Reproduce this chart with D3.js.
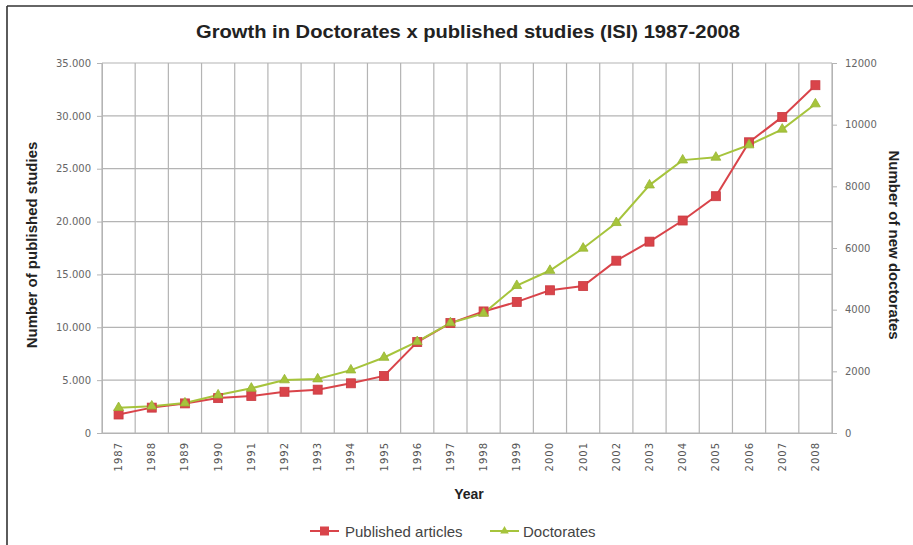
<!DOCTYPE html>
<html><head><meta charset="utf-8">
<script src="https://cdn.jsdelivr.net/npm/d3@7"></script>
<style>
html,body{margin:0;padding:0;background:#fff;}
svg{display:block;font-family:"Liberation Sans",Arial,sans-serif;}
</style></head>
<body><svg id="c" width="913" height="545"></svg>
<script>
const years = ["1987","1988","1989","1990","1991","1992","1993","1994","1995","1996","1997","1998","1999","2000","2001","2002","2003","2004","2005","2006","2007","2008"];
const publishedArticles = [1750,2400,2800,3300,3500,3900,4100,4700,5400,8600,10400,11500,12400,13500,13900,16300,18100,20100,22400,27500,29900,32900];
const doctorates = [820,870,970,1230,1450,1720,1750,2040,2450,2960,3570,3880,4780,5270,5990,6820,8040,8850,8940,9340,9850,10670];
const leftTicks = [0,5000,10000,15000,20000,25000,30000,35000];
const rightTicks = [0,2000,4000,6000,8000,10000,12000];

const svg = d3.select("#c");
const L = 102, R = 832, T = 63, B = 433;
const red = "#d9444a", green = "#a6c43c";

// frame
svg.append("line").attr("x1",7).attr("x2",7).attr("y1",6).attr("y2",545).attr("stroke","#333").attr("stroke-width",1.6);
svg.append("line").attr("x1",7).attr("x2",913).attr("y1",6).attr("y2",6).attr("stroke","#333").attr("stroke-width",1.6);

const x = d3.scaleBand().domain(years).range([L,R]);
const yL = d3.scaleLinear().domain([0,35000]).range([B,T]);
const yR = d3.scaleLinear().domain([0,12000]).range([B,T]);
const loc = d3.formatLocale({decimal:",",thousands:".",grouping:[3],currency:["",""]});
const fmtL = v => v===0 ? "0" : loc.format(",")(v);

// gridlines
const g = svg.append("g");
g.selectAll("line.h").data(leftTicks).join("line")
 .attr("x1",L).attr("x2",R).attr("y1",d=>yL(d)).attr("y2",d=>yL(d))
 .attr("stroke","#b4b4b4").attr("stroke-width",1.2);
const bounds = years.map(y=>x(y)).concat([R]);
g.selectAll("line.v").data(bounds).join("line")
 .attr("x1",d=>d).attr("x2",d=>d).attr("y1",T).attr("y2",B)
 .attr("stroke","#b4b4b4").attr("stroke-width",1.2);

// left axis
const axL = svg.append("g").attr("transform",`translate(${L},0)`)
 .call(d3.axisLeft(yL).tickValues(leftTicks).tickFormat(fmtL).tickSize(5).tickPadding(6));
axL.select(".domain").attr("stroke","#b4b4b4");
axL.selectAll(".tick line").attr("stroke","#b4b4b4");
axL.selectAll("text").attr("fill","#666").attr("font-family","DejaVu Sans, sans-serif").attr("font-size",10);

// right axis
const axR = svg.append("g").attr("transform",`translate(${R},0)`)
 .call(d3.axisRight(yR).tickValues(rightTicks).tickSize(5).tickPadding(8).tickFormat(d3.format("d")));
axR.select(".domain").attr("stroke","#b4b4b4");
axR.selectAll(".tick line").attr("stroke","#b4b4b4");
axR.selectAll("text").attr("fill","#666").attr("font-family","DejaVu Sans, sans-serif").attr("font-size",10);

// x axis
const axX = svg.append("g").attr("transform",`translate(0,${B})`)
 .call(d3.axisBottom(x).tickSize(0).tickPadding(0));
axX.select(".domain").attr("stroke","#b4b4b4");
axX.selectAll("text")
 .attr("transform","rotate(-90)")
 .attr("x",-9).attr("y",0).attr("dy","0.35em")
 .attr("text-anchor","end")
 .attr("fill","#555").attr("font-family","DejaVu Sans, sans-serif").attr("font-size",10)
 .attr("letter-spacing",1);

// lines
const cx = d => x(d)+x.bandwidth()/2;
const lineP = d3.line().x((d,i)=>cx(years[i])).y(d=>yL(d));
const lineD = d3.line().x((d,i)=>cx(years[i])).y(d=>yR(d));
svg.append("path").datum(publishedArticles).attr("d",lineP).attr("fill","none").attr("stroke",red).attr("stroke-width",2);
svg.append("path").datum(doctorates).attr("d",lineD).attr("fill","none").attr("stroke",green).attr("stroke-width",2);

svg.append("g").selectAll("rect").data(publishedArticles).join("rect")
 .attr("x",(d,i)=>cx(years[i])-4.5).attr("y",d=>yL(d)-4.5).attr("width",9).attr("height",9)
 .attr("fill",red).attr("stroke","#c93a40").attr("stroke-width",0.8);
const tri = d3.symbol().type(d3.symbolTriangle).size(42);
svg.append("g").selectAll("path").data(doctorates).join("path")
 .attr("d",tri).attr("transform",(d,i)=>`translate(${cx(years[i])},${yR(d)})`)
 .attr("fill",green).attr("stroke","#98b533").attr("stroke-width",0.8);

// titles
svg.append("text").attr("x",468).attr("y",38).attr("text-anchor","middle")
 .attr("font-size",18.5).attr("font-weight","bold").attr("fill","#222")
 .attr("textLength",544).attr("lengthAdjust","spacingAndGlyphs")
 .text("Growth in Doctorates x published studies (ISI) 1987-2008");
svg.append("text").attr("transform",`translate(37,245) rotate(-90)`).attr("text-anchor","middle")
 .attr("font-size",15).attr("font-weight","bold").attr("fill","#222")
 .text("Number of published studies");
svg.append("text").attr("transform",`translate(889,245) rotate(90)`).attr("text-anchor","middle")
 .attr("font-size",15).attr("font-weight","bold").attr("fill","#222")
 .text("Number of new doctorates");
svg.append("text").attr("x",469).attr("y",499).attr("text-anchor","middle")
 .attr("font-size",14).attr("font-weight","bold").attr("fill","#222").text("Year");

// legend
const leg = svg.append("g");
const items = [{name:"Published articles",color:red,type:"sq",x:310},{name:"Doctorates",color:green,type:"tri",x:490}];
items.forEach(it=>{
  const gg = leg.append("g").attr("transform",`translate(${it.x},531)`);
  gg.append("line").attr("x1",0).attr("x2",29).attr("stroke",it.color).attr("stroke-width",2);
  if(it.type==="sq") gg.append("rect").attr("x",10).attr("y",-4.5).attr("width",9).attr("height",9).attr("fill",it.color);
  else gg.append("path").attr("d",d3.symbol().type(d3.symbolTriangle).size(32)).attr("transform","translate(14.5,0)").attr("fill",it.color);
  gg.append("text").attr("x",it.type==="sq"?35:33).attr("y",5.5).attr("font-size",15).attr("fill","#444").text(it.name);
});
</script></body></html>
